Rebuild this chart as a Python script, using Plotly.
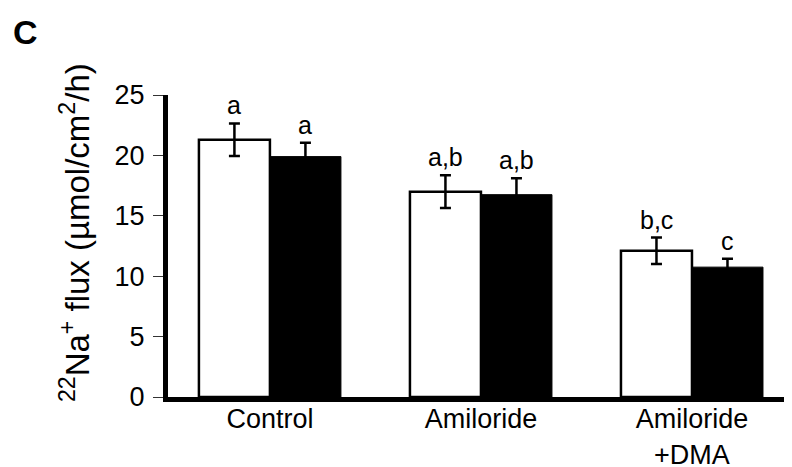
import plotly.graph_objects as go

categories = ["Control", "Amiloride", "Amiloride<br>+DMA"]
white_vals = [21.3, 17.0, 12.1]
white_err = [1.35, 1.35, 1.1]
black_vals = [19.9, 16.75, 10.75]
black_err = [1.15, 1.35, 0.7]
white_labels = ["a", "a,b", "b,c"]
black_labels = ["a", "a,b", "c"]
y_ticks = [0, 5, 10, 15, 20, 25]

FONT = "Liberation Sans, Arial, Helvetica, sans-serif"
xpos = list(range(len(categories)))
bargap = 0.327
half = (1 - bargap) / 4  # offset of each bar centre from group centre

fig = go.Figure()
fig.add_trace(go.Bar(
    x=xpos, y=white_vals, name="white",
    marker=dict(color="white", line=dict(color="black", width=2.5)),
    error_y=dict(type="data", array=white_err, color="black", thickness=2.5, width=5.5),
))
fig.add_trace(go.Bar(
    x=xpos, y=black_vals, name="black",
    marker=dict(color="black", line=dict(color="black", width=1)),
    error_y=dict(type="data", array=black_err, color="black", thickness=2.5, width=5.5),
))

annotations = []
for i in xpos:
    annotations.append(dict(x=i - half, y=white_vals[i] + white_err[i], text=white_labels[i],
                            xref="x", yref="y", showarrow=False, yanchor="bottom", yshift=2,
                            font=dict(family=FONT, size=25, color="black")))
    annotations.append(dict(x=i + half, y=black_vals[i] + black_err[i], text=black_labels[i],
                            xref="x", yref="y", showarrow=False, yanchor="bottom", yshift=2,
                            font=dict(family=FONT, size=25, color="black")))

annotations.append(dict(x=-0.149, y=0.543, xref="paper", yref="paper", textangle=-90,
                        text="<sup>22</sup>Na<sup>+</sup> flux (µmol/cm<sup>2</sup>/h)",
                        showarrow=False, xanchor="center", yanchor="middle",
                        font=dict(family=FONT, size=33, color="black")))
annotations.append(dict(x=-0.229, y=1.207, xref="paper", yref="paper", text="<b>C</b>",
                        showarrow=False, xanchor="center", yanchor="middle",
                        font=dict(family=FONT, size=34, color="black")))

fig.update_layout(
    width=784, height=459,
    margin=dict(l=160, r=0, t=87, b=70),
    paper_bgcolor="white", plot_bgcolor="white",
    barmode="group", bargap=bargap, bargroupgap=0,
    showlegend=False,
    annotations=annotations,
    xaxis=dict(range=[-0.483, 2.474], tickvals=xpos, ticktext=categories,
               showline=True, linewidth=5, linecolor="black", ticks="",
               showgrid=False, zeroline=False, ticklabelstandoff=-6, automargin=False,
               tickfont=dict(family=FONT, size=27, color="black")),
    yaxis=dict(range=[0, 25], tickvals=y_ticks, showline=True, linewidth=5,
               linecolor="black", ticks="outside", ticklen=10, tickwidth=1.2,
               tickcolor="#333", showgrid=False, zeroline=False, ticklabelstandoff=3,
               automargin=False,
               tickfont=dict(family=FONT, size=27, color="black")),
)

fig.write_html("out.html")
